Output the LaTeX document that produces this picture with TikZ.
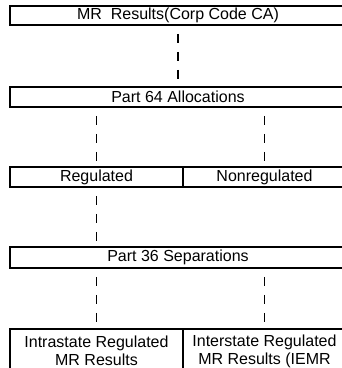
\documentclass[tikz,border=0pt]{standalone}
\usepackage{fontspec}
\setmainfont{Liberation Sans}
\usepackage{tikz}
\usetikzlibrary{calc}

\begin{document}
\begin{tikzpicture}[
        x=0.75pt, y=-0.75pt,
        rowbox/.style={rectangle, draw=black, fill=white, line width=1.6pt, inner sep=0pt, align=center, font=\fontsize{12pt}{13.5pt}\selectfont},
        widebox/.style={rowbox, minimum width=252pt, minimum height=15pt},
        leftcell/.style={rowbox, minimum width=129.75pt, minimum height=15pt},
        rightcell/.style={rowbox, minimum width=122.25pt, minimum height=15pt},
        dashlink/.style={line width=1pt, color=black, dash pattern=on 6.6pt off 6.9pt, dash phase=7.6pt}
    ]
        \useasboundingbox (0,0) rectangle (342,368);
        \clip (0,0) rectangle (342,368);

        % Top rows
        \node[widebox, minimum height=14.25pt] (mr) at (178,15.5) {MR~ Results(Corp Code CA)};
        \node[widebox] (alloc) at (178,97) {Part 64 Allocations};

        % Split after allocations
        \node[leftcell] (reg) at (96.5,177) {Regulated};
        \node[rightcell] (nonreg) at (264.5,177) {Nonregulated};

        \node[widebox, minimum height=15.75pt] (sep) at (178,257.5) {Part 36 Separations};

        % Results (cut at the bottom)
        \node[leftcell, minimum height=33pt] (intra) at (96.5,351) {Intrastate Regulated\\MR Results};
        \node[rightcell, minimum height=33pt] (inter) at (264.5,351) {Interstate Regulated\\MR Results (IEMR};

        % Connections
        \draw[dashlink] (mr.south) -- (alloc.north);
        \draw[dashlink] (alloc.south -| reg.north) -- (reg.north);
        \draw[dashlink] (alloc.south -| nonreg.north) -- (nonreg.north);
        \draw[dashlink] (reg.south) -- (reg.south |- sep.north);
        \draw[dashlink] (sep.south -| intra.north) -- (intra.north);
        \draw[dashlink] (sep.south -| inter.north) -- (inter.north);
    \end{tikzpicture}
\end{document}
